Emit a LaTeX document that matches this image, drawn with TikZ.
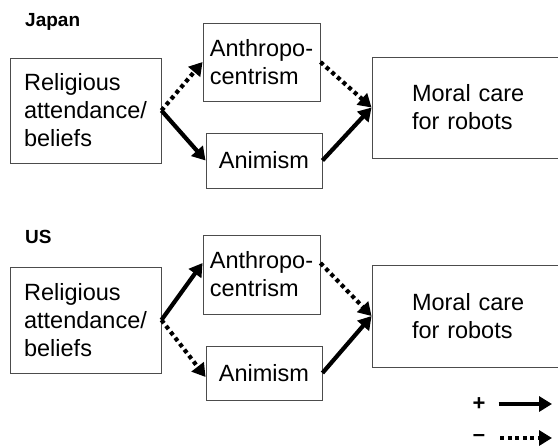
\documentclass[tikz,border=0pt]{standalone}
\usepackage{fontspec}
\setmainfont{Liberation Sans}
\usetikzlibrary{arrows.meta}
\begin{document}
\begin{tikzpicture}[x=1pt,y=-1pt,
    box/.style={draw=black!70, line width=0.9pt, align=left, inner sep=0pt,
      font=\fontsize{23.5}{28}\selectfont},
    posarrow/.style={line width=4.2pt, -{Triangle[length=13pt,width=15pt]}},
    negarrow/.style={posarrow, dash pattern=on 4pt off 3.5pt},
    title/.style={font=\bfseries\fontsize{19}{22}\selectfont, anchor=base west, inner sep=0pt},
    sign/.style={font=\bfseries\fontsize{22}{24}\selectfont, inner sep=0pt}]
  \useasboundingbox (0,0) rectangle (558,448);

  % Japan
  \node[title] (jp) at (25,26) {Japan};
  \node[box, minimum width=151, minimum height=105] (rel1) at (85.5,110.5) {Religious\\attendance/\\beliefs};
  \node[box, minimum width=117, minimum height=78] (anth1) at (261.5,62) {Anthropo-\\centrism};
  \node[box, minimum width=116, minimum height=55] (anim1) at (264,160.5) {Animism};
  \node[box, minimum height=101, text width=150, inner xsep=40pt] (moral1) at (487,107.5) {Moral care\\for robots};

  \draw[negarrow] (rel1.east) -- (anth1.west);
  \draw[posarrow] (rel1.east) -- (anim1.west);
  \draw[negarrow] (anth1.east) -- (moral1.west);
  \draw[posarrow] (anim1.east) -- (moral1.west);

  % US
  \node[title] (us) at (25,243) {US};
  \node[box, minimum width=151, minimum height=106] (rel2) at (85.5,320) {Religious\\attendance/\\beliefs};
  \node[box, minimum width=117, minimum height=79] (anth2) at (261.5,274.5) {Anthropo-\\centrism};
  \node[box, minimum width=116, minimum height=54] (anim2) at (264,373) {Animism};
  \node[box, minimum height=102, text width=150, inner xsep=40pt] (moral2) at (487,316) {Moral care\\for robots};

  \draw[posarrow] (rel2.east) -- ([yshift=11.5pt]anth2.west);
  \draw[negarrow] (rel2.east) -- ([yshift=-4pt]anim2.west);
  \draw[negarrow] ([yshift=11.5pt]anth2.east) -- (moral2.west);
  \draw[posarrow] (anim2.east) -- (moral2.west);

  % legend
  \node[sign] (plus) at (479,404) {+};
  \coordinate (plusend) at (552,404);
  \draw[posarrow, shorten <=13pt] (plus.east) -- (plusend);
  \node[sign] (minus) at (479,438) {–};
  \coordinate (minusend) at (552,438);
  \draw[negarrow, shorten <=15pt] (minus.east) -- (minusend);
\end{tikzpicture}
\end{document}
